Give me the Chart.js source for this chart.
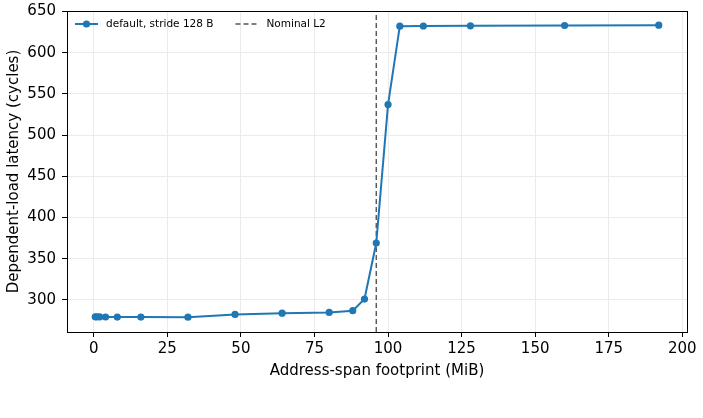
<!DOCTYPE html>
<html>
<head>
<meta charset="utf-8">
<script src="https://cdn.jsdelivr.net/npm/chart.js@4/dist/chart.umd.min.js"></script>
<style>
  html, body { margin: 0; padding: 0; background: #fff; }
  #wrap { width: 703px; height: 418px; }
</style>
</head>
<body>
<div id="wrap"><canvas id="chart" width="703" height="418"></canvas></div>
<script>
// ======================
// data
// ======================
const footprintMiB = [0.5, 1, 2, 4, 8, 16, 32, 48, 64, 80, 88, 92, 96, 100, 104, 112, 128, 160, 192];
const latencyCycles = [279.4, 279.3, 279.3, 279.2, 279.1, 279.1, 279.0, 282.3, 283.9, 284.8, 286.9, 301, 369, 537, 632.2, 632.4, 632.6, 633.0, 633.4];
const seriesLabel = "default, stride 128 B";
const l2Label = "Nominal L2";
const l2MiB = 96;
const xTicks = [0, 25, 50, 75, 100, 125, 150, 175, 200];
const yTicks = [300, 350, 400, 450, 500, 550, 600, 650];
const xRange = [-9.1, 201.6];
const yRange = [261, 650.6];

const FONT = "'DejaVu Sans', sans-serif";
const FS = 15;
const BLUE = "#1f77b4";

// 위/오른쪽 테두리 (matplotlib spine)
const boxPlugin = {
  id: "box",
  afterDatasetsDraw(chart) {
    const { ctx, chartArea: a } = chart;
    ctx.save();
    ctx.strokeStyle = "#000";
    ctx.lineWidth = 1;
    ctx.strokeRect(Math.round(a.left) + 0.5, Math.round(a.top) + 0.5,
      Math.round(a.right - a.left), Math.round(a.bottom - a.top));
    ctx.restore();
  }
};

// 범례 (frame 없음, plot 안쪽 좌상단)
const legendPlugin = {
  id: "mplLegend",
  afterDraw(chart) {
    const { ctx, chartArea: a } = chart;
    const y = a.top + 13;
    let x = a.left + 8;
    ctx.save();
    ctx.font = "10.5px " + FONT;
    ctx.textBaseline = "middle";
    chart.data.datasets.forEach(ds => {
      ctx.strokeStyle = ds.borderColor;
      ctx.lineWidth = ds.borderWidth;
      ctx.setLineDash(ds.borderDash || []);
      ctx.beginPath();
      ctx.moveTo(x, y);
      ctx.lineTo(x + 23, y);
      ctx.stroke();
      ctx.setLineDash([]);
      if (ds.pointRadius > 0) {
        ctx.fillStyle = ds.borderColor;
        ctx.beginPath();
        ctx.arc(x + 11.5, y, ds.pointRadius, 0, Math.PI * 2);
        ctx.fill();
      }
      ctx.fillStyle = "#000";
      ctx.fillText(ds.label, x + 31, y);
      x += 31 + ctx.measureText(ds.label).width + 22;
    });
    ctx.restore();
  }
};

const points = footprintMiB.map((v, i) => ({ x: v, y: latencyCycles[i] }));

new Chart(document.getElementById("chart"), {
  type: "line",
  data: {
    datasets: [
      {
        label: seriesLabel,
        data: points,
        borderColor: BLUE,
        backgroundColor: BLUE,
        borderWidth: 2,
        pointRadius: 3.6,
        pointBackgroundColor: BLUE,
        pointBorderWidth: 0,
        tension: 0
      },
      {
        label: l2Label,
        data: [{ x: l2MiB, y: yRange[0] }, { x: l2MiB, y: yRange[1] }],
        borderColor: "#555",
        borderWidth: 1.4,
        borderDash: [5, 3],
        pointRadius: 0
      }
    ]
  },
  options: {
    responsive: false,
    animation: false,
    events: [],
    layout: { padding: { left: 0, right: 16, top: 11, bottom: 38 } },
    plugins: { legend: { display: false }, tooltip: { enabled: false } },
    scales: {
      x: {
        type: "linear",
        min: xRange[0],
        max: xRange[1],
        afterBuildTicks: s => { s.ticks = xTicks.map(v => ({ value: v })); },
        afterFit: s => { s.height = 48; s.paddingLeft = 0; s.paddingRight = 0; },
        grid: { color: "#ebebeb", lineWidth: 1, tickColor: "#000", tickLength: 5 },
        border: { color: "#000", width: 1 },
        ticks: { color: "#000", font: { family: FONT, size: FS }, padding: 3, maxRotation: 0 },
        title: { display: true, text: "Address-span footprint (MiB)", color: "#000",
          font: { family: FONT, size: FS }, padding: { top: 2, bottom: 0 } }
      },
      y: {
        type: "linear",
        min: yRange[0],
        max: yRange[1],
        afterBuildTicks: s => { s.ticks = yTicks.map(v => ({ value: v })); },
        afterFit: s => { s.width = 67; s.paddingTop = 0; s.paddingBottom = 0; },
        grid: { color: "#ebebeb", lineWidth: 1, tickColor: "#000", tickLength: 5 },
        border: { color: "#000", width: 1 },
        ticks: { color: "#000", font: { family: FONT, size: FS }, padding: 6 },
        title: { display: true, text: "Dependent-load latency (cycles)", color: "#000",
          font: { family: FONT, size: FS }, padding: { top: 5, bottom: 0 } }
      }
    }
  },
  plugins: [boxPlugin, legendPlugin]
});
</script>
</body>
</html>
